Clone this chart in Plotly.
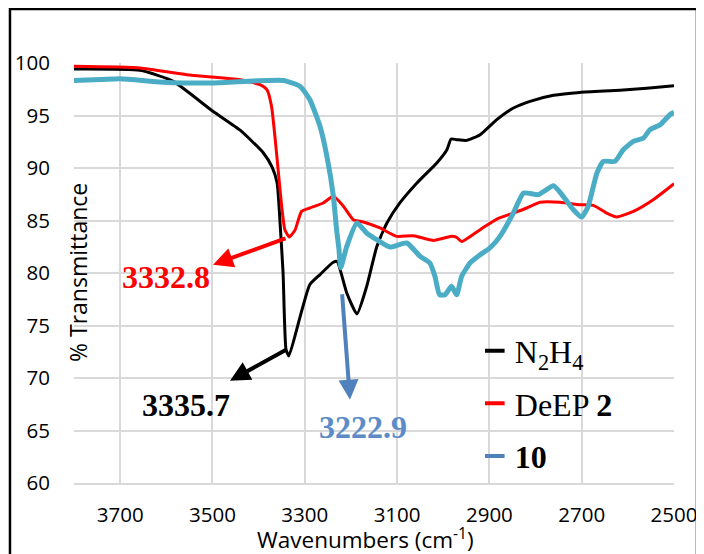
import plotly.graph_objects as go

# ---------------- data ----------------
n2h4_x = [3800, 3657, 3585, 3499, 3440, 3390, 3371, 3360, 3353, 3347, 3340.6, 3334.5,
          3310, 3289, 3267, 3239, 3230, 3209, 3187, 3166, 3144, 3122, 3094, 3057,
          3014, 2992, 2983, 2971, 2949, 2920, 2884, 2848, 2812, 2761, 2704, 2617, 2559, 2500]
n2h4_y = [99.43, 99.3, 98.25, 95.4, 93.6, 91.45, 90.1, 88.6, 84.4, 80.0, 72.7, 72.1,
          75.85, 78.9, 79.85, 81.0, 81.1, 78.1, 76.1, 78.7, 82.5, 84.76, 86.67, 88.57,
          90.48, 91.74, 92.76, 92.7, 92.63, 93.17, 94.6, 95.71, 96.35, 96.92, 97.2, 97.4, 97.6, 97.84]

deep2_x = [3800, 3657, 3556, 3440, 3397, 3382, 3372, 3364, 3357, 3350, 3343, 3333.5,
           3321, 3307, 3289, 3260, 3238, 3216, 3195, 3173, 3137, 3101, 3065, 3021,
           2982, 2971, 2960, 2920, 2884, 2848, 2819, 2790, 2747, 2704, 2675, 2646,
           2624, 2588, 2545, 2500]
deep2_y = [99.68, 99.52, 98.88, 98.41, 97.93, 97.46, 95.87, 92.7, 89.5, 86.34, 84.1, 83.43,
           84.1, 85.87, 86.19, 86.67, 87.3, 86.34, 85.08, 84.86, 84.29, 83.49, 83.55, 83.1,
           83.49, 83.4, 83.0, 84.13, 85.14, 85.71, 86.19, 86.73, 86.73, 86.5, 86.44, 85.71,
           85.33, 85.87, 86.98, 88.5]

c10_x = [3800, 3741, 3700, 3599, 3498, 3411, 3346, 3310, 3289, 3267, 3252, 3238, 3231, 3226,
         3222, 3209, 3187, 3166, 3144, 3115, 3079, 3050, 3029, 3018, 3008, 2996, 2982,
         2971, 2960, 2942, 2920, 2899, 2877, 2848, 2826, 2794, 2761, 2740, 2718, 2700,
         2686, 2667, 2653, 2628, 2610, 2588, 2566, 2552, 2530, 2509, 2500]
c10_y = [98.34, 98.42, 98.5, 98.15, 98.1, 98.29, 98.34, 97.77, 96.5, 93.97, 91.1, 87.3, 84.1, 82.3,
         80.5, 82.53, 84.76, 83.81, 83.17, 82.47, 82.86, 81.58, 80.95, 79.68, 77.93, 77.93, 78.73,
         77.93, 79.68, 80.95, 81.74, 82.38, 83.49, 85.71, 87.62, 87.46, 88.31, 87.3, 86.03, 85.33,
         86.34, 89.52, 90.63, 90.63, 91.74, 92.53, 92.86, 93.65, 94.12, 95.08, 95.3]

series_names = ["N<sub>2</sub>H<sub>4</sub>", "DeEP <b>2</b>", "<b>10</b>"]
line_colors = ["#000000", "#FF0000", "#4BACC6"]
legend_colors = ["#000000", "#FF0000", "#4F81BD"]

peak_labels = ["3335.7", "3332.8", "3222.9"]
x_ticks = [3700, 3500, 3300, 3100, 2900, 2700, 2500]
y_ticks = [60, 65, 70, 75, 80, 85, 90, 95, 100]

# ---------------- figure ----------------
fig = go.Figure()
widths = [3, 3, 5]
for xs, ys, c, w in zip([n2h4_x, deep2_x, c10_x], [n2h4_y, deep2_y, c10_y], line_colors, widths):
    fig.add_trace(go.Scatter(x=xs, y=ys, mode="lines", showlegend=False,
                             line=dict(color=c, width=w, shape="spline", smoothing=0.5)))

for i, (nm, c) in enumerate(zip(series_names, legend_colors)):
    fig.add_trace(go.Scatter(x=[None], y=[None], mode="markers", name=nm, legendgroup=str(i),
                             marker=dict(symbol="line-ew", size=14, line=dict(width=4, color=c))))

serif = "Liberation Serif"
# arrows (tail -> head) and labels
arrows = [
    (3336.3, 72.79, 3462.0, 69.74, "#000000"),
    (3338.5, 83.36, 3498.8, 80.79, "#FF0000"),
    (3219.3, 78.12, 3202.0, 67.93, "#4F81BD"),
]
for tx, ty, hx, hy, c in arrows:
    fig.add_annotation(x=hx, y=hy, ax=tx, ay=ty, xref="x", yref="y", axref="x", ayref="y",
                       text="", showarrow=True, arrowhead=2, arrowsize=1, arrowwidth=4,
                       arrowcolor=c, standoff=0)

label_pos = [(3557, 67.46, "#000000"), (3601, 79.65, "#FF0000"), (3173, 65.31, "#5B8CC8")]
for lab, (lx, ly, c) in zip(peak_labels, label_pos):
    fig.add_annotation(x=lx, y=ly, xref="x", yref="y", text="<b>%s</b>" % lab, showarrow=False,
                       font=dict(family=serif, size=32, color=c), xanchor="center", yanchor="middle")

# axis titles
fig.add_annotation(x=0.0067, y=0.5, xref="paper", yref="paper", text="% Transmittance",
                   textangle=-90, showarrow=False, font=dict(family="Open Sans", size=23, color="#000"),
                   xanchor="center", yanchor="middle")
fig.add_annotation(x=0.485, y=-0.1310, xref="paper", yref="paper", text="Wavenumbers (cm<sup>-1</sup>)",
                   showarrow=False, font=dict(family="Open Sans", size=22.5, color="#000"),
                   xanchor="center", yanchor="middle")

# outer frame
fig.add_shape(type="rect", xref="paper", yref="paper", x0=-0.1067, x1=1.0383, y0=-0.2, y1=1.1286,
              line=dict(color="black", width=2.5), fillcolor="rgba(0,0,0,0)", layer="above")

fig.update_layout(
    width=696, height=546,
    margin=dict(l=66, r=30, t=55, b=71, autoexpand=False),
    paper_bgcolor="white", plot_bgcolor="white",
    font=dict(family="Open Sans", size=20.5, color="#000"),
    legend=dict(x=0.668, y=0.38, xanchor="left", yanchor="top", bgcolor="rgba(0,0,0,0)",
                font=dict(family=serif, size=32, color="#000"), tracegroupgap=8),
)
fig.update_xaxes(range=[3800, 2500], tickvals=x_ticks, showgrid=True, gridcolor="#D9D9D9", gridwidth=1.5,
                 zeroline=False, showline=True, linecolor="#D9D9D9", linewidth=1.5, automargin=False,
                 ticks="outside", ticklen=13, tickcolor="rgba(0,0,0,0)")
fig.update_yaxes(range=[60, 100], tickvals=y_ticks, showgrid=True, gridcolor="#D9D9D9", gridwidth=1.5,
                 zeroline=False, showline=False, automargin=False,
                 ticks="outside", ticklen=19, tickcolor="rgba(0,0,0,0)")

fig.write_html("out.html")
